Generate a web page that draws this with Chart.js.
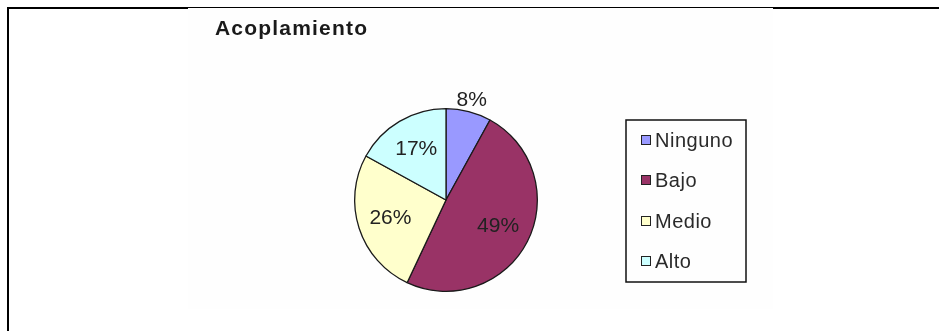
<!DOCTYPE html>
<html>
<head>
<meta charset="utf-8">
<title>Acoplamiento</title>
<script src="https://cdn.jsdelivr.net/npm/chart.js@4"></script>
<style>
  html, body { margin: 0; padding: 0; background: #fff; }
  body { width: 939px; height: 331px; position: relative; overflow: hidden; }
  /* page frame: left rule and top rule, the top one thinner behind the chart */
  .rule { position: absolute; background: #000; }
  .rule-left { left: 7px; top: 7px; width: 2px; bottom: 0; }
  .rule-top { left: 7px; top: 7px; right: 0; height: 1px; }
  .rule-top-a { left: 7px; top: 8px; width: 181px; height: 1px; }
  .rule-top-b { left: 773px; top: 8px; right: 0; height: 1px; }
  .chart-box { position: absolute; left: 188px; top: 9px; width: 585px; height: 300px; background: #fefefe; }
</style>
</head>
<body>
<div class="rule rule-left"></div>
<div class="rule rule-top"></div>
<div class="rule rule-top-a"></div>
<div class="rule rule-top-b"></div>
<div class="chart-box">
  <canvas id="couplingChart" width="585" height="300"></canvas>
</div>
<script>
// Chart data
const chartTitle = 'Acoplamiento';
const categories = ['Ninguno', 'Bajo', 'Medio', 'Alto'];
const percentages = [8, 49, 26, 17];
const sliceColors = ['#9999FF', '#993366', '#FFFFCC', '#CCFFFF'];

const FONT = '"Liberation Sans", Arial, sans-serif';

// Title in the top-left corner
const cornerTitle = {
    id: 'cornerTitle',
    afterDraw(chart, args, opts) {
        const ctx = chart.ctx;
        ctx.save();
        ctx.font = 'bold 21px ' + FONT;
        ctx.letterSpacing = '1.2px';
        ctx.fillStyle = '#1a1a1a';
        ctx.textAlign = 'left';
        ctx.textBaseline = 'alphabetic';
        ctx.fillText(opts.text, opts.x, opts.y);
        ctx.restore();
    }
};

// Percentage labels, small slices get theirs outside the pie
const sliceLabels = {
    id: 'sliceLabels',
    afterDatasetsDraw(chart) {
        const ctx = chart.ctx;
        const meta = chart.getDatasetMeta(0);
        const values = chart.data.datasets[0].data;
        ctx.save();
        ctx.font = '21px ' + FONT;
        ctx.fillStyle = '#222';
        ctx.textAlign = 'center';
        ctx.textBaseline = 'middle';
        meta.data.forEach((arc, i) => {
            const p = arc.getProps(['x', 'y', 'startAngle', 'endAngle', 'outerRadius'], true);
            const mid = (p.startAngle + p.endAngle) / 2;
            const r = values[i] < 10 ? p.outerRadius * 1.13 : p.outerRadius * 0.64;
            ctx.fillText(values[i] + '%', p.x + Math.cos(mid) * r, p.y + Math.sin(mid) * r);
        });
        ctx.restore();
    }
};

// Boxed legend to the right of the pie
const boxLegend = {
    id: 'boxLegend',
    afterDraw(chart, args, opts) {
        const ctx = chart.ctx;
        const colors = chart.data.datasets[0].backgroundColor;
        ctx.save();
        ctx.strokeStyle = '#111';
        ctx.lineWidth = 1.5;
        ctx.strokeRect(opts.x, opts.y, opts.width, opts.height);
        ctx.font = '20px ' + FONT;
        ctx.letterSpacing = '0.5px';
        ctx.textAlign = 'left';
        ctx.textBaseline = 'middle';
        ctx.lineWidth = 1;
        chart.data.labels.forEach((label, i) => {
            const cy = Math.round(opts.y + opts.firstRow + i * opts.rowGap);
            ctx.fillStyle = colors[i];
            ctx.fillRect(opts.x + 15.5, cy - 4.5, 9, 9);
            ctx.strokeStyle = '#222';
            ctx.strokeRect(opts.x + 15.5, cy - 4.5, 9, 9);
            ctx.fillStyle = '#2a2a2a';
            ctx.fillText(label, opts.x + 29, cy + 1);
        });
        ctx.restore();
    }
};

const couplingChart = new Chart(
    document.getElementById('couplingChart'),
    {
        type: 'pie',
        data: {
            labels: categories,
            datasets: [{
                data: percentages,
                backgroundColor: sliceColors,
                borderColor: '#1a1a1a',
                borderWidth: 1.3
            }]
        },
        options: {
            responsive: false,
            animation: false,
            events: [],
            layout: {
                padding: { left: 166, right: 235, top: 99, bottom: 17 }
            },
            plugins: {
                legend: { display: false },
                tooltip: { enabled: false },
                title: { display: false },
                cornerTitle: { text: chartTitle, x: 27, y: 26 },
                boxLegend: { x: 438, y: 111, width: 120, height: 162, firstRow: 20, rowGap: 40.3 }
            }
        },
        plugins: [cornerTitle, sliceLabels, boxLegend]
    }
);
</script>
</body>
</html>
